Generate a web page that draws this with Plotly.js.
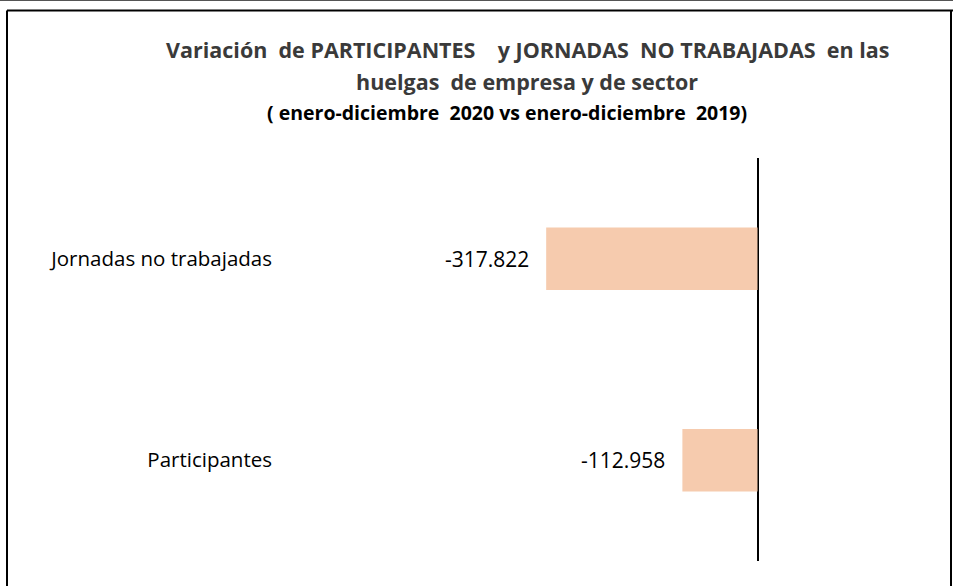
<!DOCTYPE html>
<html>
<head>
<meta charset="utf-8">
<script src="https://cdn.plot.ly/plotly-3.0.1.min.js"></script>
<style>html,body{margin:0;padding:0;background:#fff;}#chart{width:953px;height:586px;}</style>
</head>
<body>
<div id="chart"></div>
<script>
const categories = ["Participantes", "Jornadas no trabajadas"];
const values = [-112958, -317822];
const valueLabels = ["-112.958", "-317.822"];
const titleLines = [
  "Variación  de PARTICIPANTES    y JORNADAS  NO TRABAJADAS  en las",
  "huelgas  de empresa y de sector",
  "( enero-diciembre  2020 vs enero-diciembre  2019)"
];

const W = 953, H = 586;
const mL = 285, mR = 43, mT = 158, mB = 25;
const pw = W - mL - mR, ph = H - mT - mB;
const px = x => (x - mL) / pw;
const py = y => (H - mB - y) / ph;

const FONT = "Open Sans, Lato, sans-serif";

const trace = {
  type: "bar",
  orientation: "h",
  y: categories,
  x: values,
  width: 0.31,
  marker: {color: "#F6CBAE", line: {width: 0}},
  hoverinfo: "none"
};

const valueAnnotations = categories.map((c, i) => ({
  text: valueLabels[i], xref: "x", yref: "y", x: values[i], y: c,
  xanchor: "right", yanchor: "middle", xshift: -15, showarrow: false,
  font: {family: FONT, size: 21, color: "#000"}
}));

const layout = {
  width: W, height: H,
  margin: {l: mL, r: mR, t: mT, b: mB},
  paper_bgcolor: "#fff",
  plot_bgcolor: "#fff",
  showlegend: false,
  font: {family: FONT, color: "#000"},
  xaxis: {
    range: [-710640, 229360],
    showticklabels: false,
    showgrid: false,
    zeroline: true,
    zerolinecolor: "#000",
    zerolinewidth: 2,
    showline: false,
    ticks: ""
  },
  yaxis: {
    type: "category",
    categoryorder: "array",
    categoryarray: categories,
    range: [-0.5, 1.5],
    showgrid: false,
    zeroline: false,
    showline: false,
    ticks: "",
    ticklabelstandoff: 12,
    tickfont: {family: FONT, size: 20.5, color: "#000"}
  },
  annotations: [
    {text: "<b>" + titleLines[0] + "</b>", xref: "paper", yref: "paper", x: px(527), y: py(50), xanchor: "center", yanchor: "middle", showarrow: false, font: {family: FONT, size: 21.5, color: "#3a3a3a"}},
    {text: "<b>" + titleLines[1] + "</b>", xref: "paper", yref: "paper", x: px(527), y: py(81), xanchor: "center", yanchor: "middle", showarrow: false, font: {family: FONT, size: 21.5, color: "#3a3a3a"}},
    {text: "<b>" + titleLines[2] + "</b>", xref: "paper", yref: "paper", x: px(507), y: py(113), xanchor: "center", yanchor: "middle", showarrow: false, font: {family: FONT, size: 19.5, color: "#000"}}
  ].concat(valueAnnotations),
  shapes: [
    {type: "line", xref: "paper", yref: "paper", x0: px(0), x1: px(953), y0: py(0.5), y1: py(0.5), line: {color: "#555", width: 1}},
    {type: "line", xref: "paper", yref: "paper", x0: px(7), x1: px(953), y0: py(10.5), y1: py(10.5), line: {color: "#000", width: 2}},
    {type: "line", xref: "paper", yref: "paper", x0: px(7), x1: px(7), y0: py(10.5), y1: py(590), line: {color: "#000", width: 2}},
    {type: "line", xref: "paper", yref: "paper", x0: px(951), x1: px(951), y0: py(10.5), y1: py(590), line: {color: "#000", width: 2}}
  ]
};

Plotly.newPlot("chart", [trace], layout, {displayModeBar: false, staticPlot: true});
</script>
</body>
</html>
